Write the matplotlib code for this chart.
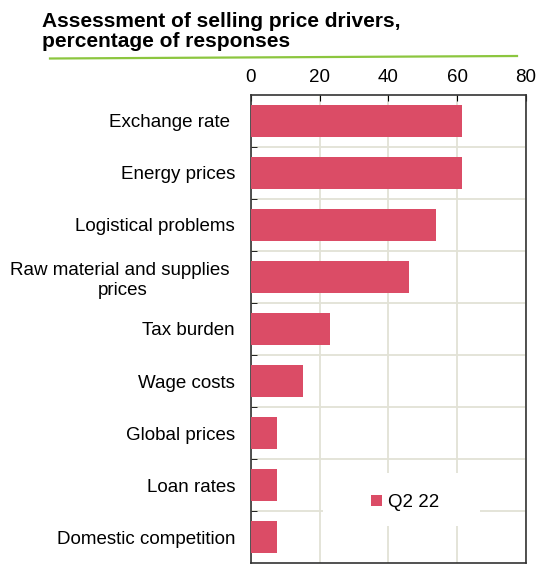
import matplotlib.pyplot as plt
from matplotlib.lines import Line2D
from matplotlib.patches import Rectangle

plt.rcParams['font.family'] = ['Liberation Sans', 'DejaVu Sans']

# data
categories = ["Exchange rate ", "Energy prices", "Logistical problems",
              "Raw material and supplies \nprices", "Tax burden", "Wage costs",
              "Global prices", "Loan rates", "Domestic competition"]
q2_22 = [61.5, 61.5, 53.8, 46.1, 23.0, 15.2, 7.7, 7.7, 7.7]
x_ticks = [0, 20, 40, 60, 80]

bar_color = "#DB4C66"
grid_color = "#E2E2D6"

fig = plt.figure(figsize=(5.37, 5.65), dpi=100)
ax = fig.add_axes([0.4674, 0.0035, 0.5116, 0.8284])

ypos = list(range(len(categories)))
ax.barh(ypos, q2_22, height=0.6, color=bar_color, label="Q2 22", zorder=3)

ax.set_xlim(0, 80)
ax.set_ylim(len(categories) - 0.5, -0.5)
ax.xaxis.tick_top()
ax.set_xticks(x_ticks)
ax.tick_params(axis='x', direction='in', length=4, labelsize=13.5, pad=6.5,
               colors='black')

# category labels at bar centres, ticks/grid at boundaries
ax.set_yticks(ypos)
ax.set_yticklabels(categories, fontsize=13.5, multialignment='center')
ax.tick_params(axis='y', which='major', length=0, pad=11.5)
ax.set_yticks([i + 0.5 for i in range(len(categories) - 1)], minor=True)
ax.tick_params(axis='y', which='minor', direction='in', length=4, color='black')

ax.grid(True, axis='x', color=grid_color, lw=1.3, zorder=0)
ax.grid(True, axis='y', which='minor', color=grid_color, lw=1.3, zorder=0)

for s in ax.spines.values():
    s.set_color('#333333')
    s.set_linewidth(1.2)

# white box behind the legend
ax.add_patch(Rectangle((0.262, 0.079), 0.572, 0.113, transform=ax.transAxes,
                       facecolor='white', edgecolor='none', zorder=4))
leg = ax.legend(loc='center', bbox_to_anchor=(0.56, 0.129), frameon=False,
                fontsize=13.5, handlelength=0.6, handleheight=0.6,
                handletextpad=0.3, borderaxespad=0)
leg.set_zorder(5)

fig.text(0.078, 0.978, "Assessment of selling price drivers,\npercentage of responses",
         fontsize=15, fontweight='bold', ha='left', va='top', linespacing=1.05)

fig.add_artist(Line2D([50 / 537, 517 / 537], [1 - 58.5 / 565, 1 - 56 / 565],
                      transform=fig.transFigure, color='#8CC63F', lw=1.6))

fig.savefig("out.png", dpi=100)
